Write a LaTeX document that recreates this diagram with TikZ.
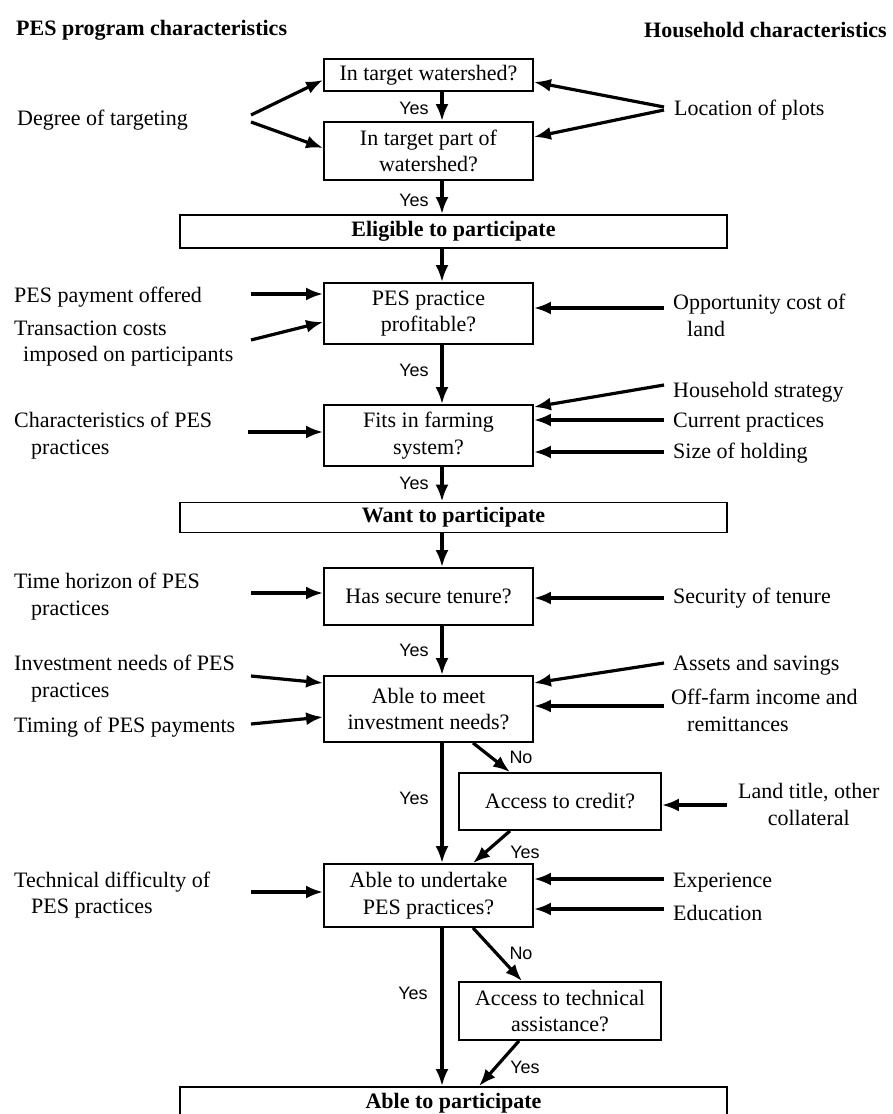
\documentclass[tikz,border=0pt]{standalone}
\usepackage{fontspec}
\setmainfont{Liberation Serif}
\newfontfamily\ynfont{Liberation Sans}
\usetikzlibrary{arrows.meta}
\newcommand{\txt}{\fontsize{22}{26.5}\selectfont}
\tikzset{
  qbox/.style={draw, line width=1.8pt, minimum width=209pt, align=center, inner sep=0pt, font=\txt},
  sbox/.style={qbox, minimum width=202pt},
  stage/.style={draw, line width=1.8pt, minimum width=547pt, minimum height=33pt, inner sep=0pt, font=\txt\bfseries},
  lab/.style={anchor=west, align=left, inner sep=0pt, font=\txt},
  head/.style={anchor=west, inner sep=0pt, font=\txt\bfseries},
  yn/.style={inner sep=0pt, font=\ynfont\fontsize{18}{18}\selectfont},
  arr/.style={line width=3.2pt, -{Latex[length=17pt,width=13pt]}}
}
\begin{document}
\begin{tikzpicture}[x=1pt,y=-1pt]
\useasboundingbox[fill=white] (0,0) rectangle (893,1114);
\begin{scope}
\clip (0,0) rectangle (893,1114);

% column headings
\node[head] (hl) at (16,30) {PES program characteristics};
\node[head] (hr) at (644,30) {Household characteristics};

% decision chain
\coordinate (spine) at (442,0);
\node[qbox, minimum height=32pt] (q1) at (428.5,75) {In target watershed?};
\node[qbox, minimum height=58pt] (q2) at (428.5,151) {In target part of\\watershed?};
\node[stage] (elig) at (453.5,231.5) {Eligible to participate};
\node[qbox, minimum height=61pt] (q3) at (428.5,313.5) {PES practice\\profitable?};
\node[qbox, minimum height=61pt] (q4) at (428.5,435.5) {Fits in farming\\system?};
\node[stage, minimum height=30pt] (want) at (453.5,517.5) {Want to participate};
\node[qbox, minimum height=57pt] (q5) at (428.5,596.5) {Has secure tenure?};
\node[qbox, minimum height=66pt] (q6) at (428.5,709) {Able to meet\\investment needs?};
\node[sbox, minimum height=57pt] (c1) at (560,801.5) {Access to credit?};
\node[qbox, minimum height=63pt] (q7) at (428.5,895.5) {Able to undertake\\PES practices?};
\node[sbox, minimum height=58pt] (c2) at (560,1011) {Access to technical\\assistance?};
\node[stage] (able) at (453.5,1103.5) {Able to participate};

% main flow
\draw[arr] (q1.south -| spine) -- (q2.north -| spine);
\draw[arr] (q2.south -| spine) -- (elig.north -| spine);
\draw[arr] (elig.south -| spine) -- (q3.north -| spine);
\draw[arr] (q3.south -| spine) -- (q4.north -| spine);
\draw[arr] (q4.south -| spine) -- (want.north -| spine);
\draw[arr] (want.south -| spine) -- (q5.north -| spine);
\draw[arr] (q5.south -| spine) -- (q6.north -| spine);
\draw[arr] (q6.south -| spine) -- (q7.north -| spine);
\draw[arr] (q7.south -| spine) -- (able.north -| spine);

% side branches
\draw[arr] (q6.south -| 473,0) -- (c1.north -| 510,0);
\draw[arr] (c1.south -| 510,0) -- (q7.north -| 473,0);
\draw[arr] (q7.south -| 473,0) -- (c2.north -| 522,0);
\draw[arr] (c2.south -| 519,0) -- (able.north -| 479,0);

% yes / no labels
\node[yn] (y1) at (414,108) {Yes};
\node[yn] (y2) at (414,200) {Yes};
\node[yn] (y3) at (414,370) {Yes};
\node[yn] (y4) at (414,483) {Yes};
\node[yn] (y5) at (414,650) {Yes};
\node[yn] (n1) at (521,757) {No};
\node[yn] (y6) at (414,798) {Yes};
\node[yn] (y7) at (525,852) {Yes};
\node[yn] (n2) at (521,953) {No};
\node[yn] (y8) at (413,993) {Yes};
\node[yn] (y9) at (525,1067) {Yes};

% program characteristics (left)
\node[lab] (dt) at (17,120) {Degree of targeting};
\node[lab] (pay) at (14,297) {PES payment offered};
\node[lab] (tc) at (14,343.5) {Transaction costs\\\hspace*{9pt}imposed on participants};
\node[lab] (cp) at (14,435.5) {Characteristics of PES\\\hspace*{17pt}practices};
\node[lab] (th) at (14,596.5) {Time horizon of PES\\\hspace*{17pt}practices};
\node[lab] (inv) at (14,678.5) {Investment needs of PES\\\hspace*{17pt}practices};
\node[lab] (tim) at (14,727) {Timing of PES payments};
\node[lab] (td) at (14,895) {Technical difficulty of\\\hspace*{17pt}PES practices};

\coordinate (dtA) at (251,115);
\coordinate (dtB) at (251,122);
\coordinate (payA) at (251,294);
\coordinate (tcA) at (251,340);
\coordinate (cpA) at (248,432);
\coordinate (thA) at (251,593);
\coordinate (invA) at (251,676);
\coordinate (timA) at (251,724);
\coordinate (tdA) at (251,892);

\draw[arr] (dtA) -- (q1.west |- 0,80);
\draw[arr] (dtB) -- (q2.west |- 0,148);
\draw[arr] (payA) -- (q3.west |- payA);
\draw[arr] (tcA) -- (q3.west |- 0,322);
\draw[arr] (cpA) -- (q4.west |- cpA);
\draw[arr] (thA) -- (q5.west |- thA);
\draw[arr] (invA) -- (q6.west |- 0,683);
\draw[arr] (timA) -- (q6.west |- 0,717);
\draw[arr] (tdA) -- (q7.west |- tdA);

% household characteristics (right)
\node[lab] (lp) at (674,110) {Location of plots};
\node[lab] (oc) at (673,315.5) {Opportunity cost of\\\hspace*{14pt}land};
\node[lab] (hs) at (673,392) {Household strategy};
\node[lab] (cu) at (673,423) {Current practices};
\node[lab] (sz) at (673,453) {Size of holding};
\node[lab] (st) at (673,598) {Security of tenure};
\node[lab] (as) at (673,665) {Assets and savings};
\node[lab] (of) at (671,710.5) {Off-farm income and\\\hspace*{16pt}remittances};
\node[lab, align=center] (lt) at (738,804.5) {Land title, other\\collateral};
\node[lab] (ex) at (673,883) {Experience};
\node[lab] (ed) at (673,913) {Education};

\coordinate (lpA) at (664,107);
\coordinate (lpB) at (664,110);
\coordinate (ocA) at (664,308);
\coordinate (hsA) at (664,385);
\coordinate (cuA) at (664,420);
\coordinate (szA) at (664,452);
\coordinate (stA) at (664,598);
\coordinate (asA) at (664,663);
\coordinate (ofA) at (664,706);
\coordinate (ltA) at (727,805);
\coordinate (exA) at (664,879);
\coordinate (edA) at (664,909);

\draw[arr] (lpA) -- (q1.east |- 0,82);
\draw[arr] (lpB) -- (q2.east |- 0,137);
\draw[arr] (ocA) -- (q3.east |- ocA);
\draw[arr] (hsA) -- (q4.east |- 0,407);
\draw[arr] (cuA) -- (q4.east |- cuA);
\draw[arr] (szA) -- (q4.east |- szA);
\draw[arr] (stA) -- (q5.east |- stA);
\draw[arr] (asA) -- (q6.east |- 0,683);
\draw[arr] (ofA) -- (q6.east |- ofA);
\draw[arr] (ltA) -- (c1.east |- ltA);
\draw[arr] (exA) -- (q7.east |- exA);
\draw[arr] (edA) -- (q7.east |- edA);
\end{scope}
\end{tikzpicture}
\end{document}
